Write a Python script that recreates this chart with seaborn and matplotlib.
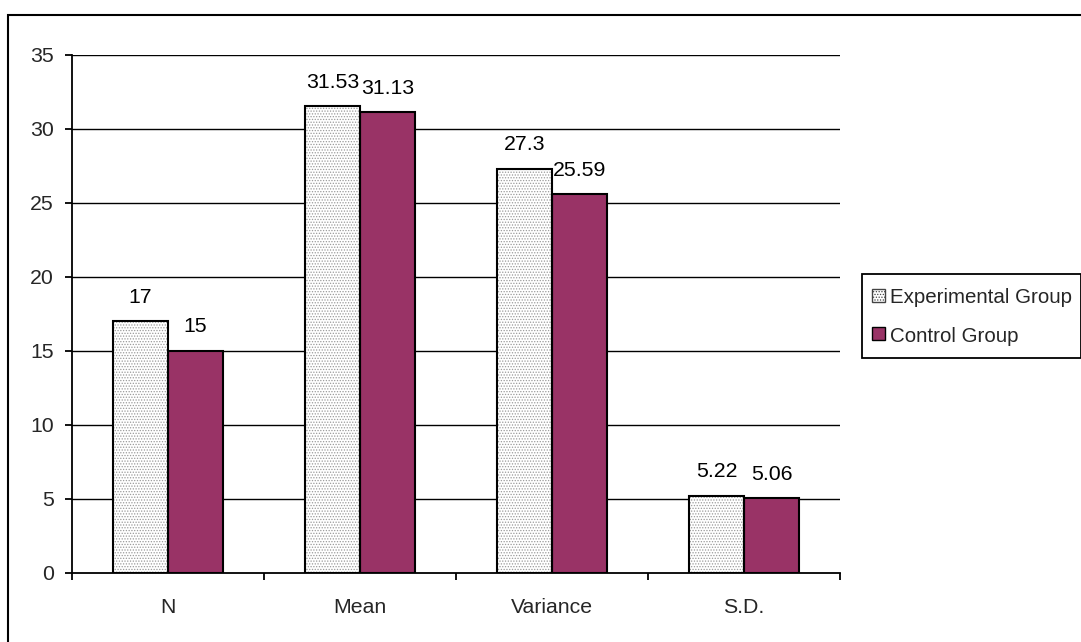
import matplotlib
matplotlib.use("Agg")
import matplotlib.pyplot as plt
from matplotlib.patches import Rectangle, Patch
from matplotlib.legend_handler import HandlerPatch
import seaborn as sns
import pandas as pd

categories = ["N", "Mean", "Variance", "S.D."]
groups = ["Experimental Group", "Control Group"]
experimental = [17, 31.53, 27.3, 5.22]
control = [15, 31.13, 25.59, 5.06]
y_ticks = [0, 5, 10, 15, 20, 25, 30, 35]

EXP_EDGE = "#9a9a9a"
CTRL_COLOR = "#993366"

sns.set_theme(style="white")
plt.rcParams["font.family"] = ["Liberation Sans", "DejaVu Sans"]
plt.rcParams["hatch.linewidth"] = 0.6

df = pd.DataFrame({
    "category": categories * 2,
    "group": [groups[0]] * 4 + [groups[1]] * 4,
    "value": experimental + control,
})

W, H = 1081, 642
fig = plt.figure(figsize=(W / 100, H / 100), dpi=100)
ax = fig.add_axes([72 / W, (H - 573) / H, 768 / W, (573 - 55) / H])

sns.barplot(data=df, x="category", y="value", hue="group", order=categories,
            hue_order=groups, palette=["white", CTRL_COLOR], width=0.573,
            edgecolor="black", linewidth=1.5, saturation=1, errorbar=None,
            legend=False, ax=ax, zorder=3)

fs = 15.3
fs_leg = 14.8
# pattern fill for experimental bars + crisp outlines
exp_cont = ax.containers[0]
for p in exp_cont.patches:
    p.set_hatch("......")
    p.set_edgecolor(EXP_EDGE)
    p.set_linewidth(0)
    ax.add_patch(Rectangle(p.get_xy(), p.get_width(), p.get_height(), fill=False,
                           edgecolor="black", linewidth=1.5, zorder=4))

for cont, vals in zip(ax.containers, [experimental, control]):
    ax.bar_label(cont, labels=[f"{v:g}" for v in vals], padding=10.5,
                 fontsize=fs, color="black")

ax.set_ylim(0, 35)
ax.set_xlim(-0.5, 3.5)
ax.set_yticks(y_ticks)
ax.set_yticklabels([str(t) for t in y_ticks])
ax.set_xticks([0, 1, 2, 3])
ax.set_xticklabels(categories)
ax.set_xlabel("")
ax.set_ylabel("")

# gridlines
for t in y_ticks[1:]:
    ax.axhline(t, color="black", linewidth=1.0, zorder=1)

for s in ["top", "right"]:
    ax.spines[s].set_visible(False)
for s in ["left", "bottom"]:
    ax.spines[s].set_color("black")
    ax.spines[s].set_linewidth(1.3)
    ax.spines[s].set_zorder(5)

ax.tick_params(axis="y", which="both", direction="out", length=5, width=1.3,
               color="black", labelsize=fs, pad=8, left=True)
ax.tick_params(axis="x", which="major", bottom=False, labelsize=fs, pad=12)
# category separator ticks
ax.set_xticks([-0.5, 0.5, 1.5, 2.5, 3.5], minor=True)
ax.tick_params(axis="x", which="minor", bottom=True, direction="out", length=5,
               width=1.3, color="black")


# legend with small square handles
SQ = 13 * 72 / 100  # square side in points


def square_patch(legend, orig_handle, xdescent, ydescent, width, height, fontsize):
    return Rectangle((-xdescent + (width - SQ) / 2, -ydescent + (height - SQ) / 2 + 1.0),
                     SQ, SQ)


handles = [Patch(facecolor="white", edgecolor="#444444", hatch="......", linewidth=1.0),
           Patch(facecolor=CTRL_COLOR, edgecolor="black", linewidth=1.0)]
leg = fig.legend(handles, groups, loc="upper left",
                 bbox_to_anchor=(862 / W, 1 - 274 / H), bbox_transform=fig.transFigure,
                 fontsize=fs_leg, frameon=True, fancybox=False, framealpha=1,
                 edgecolor="black", handlelength=0.78, handleheight=1.75,
                 handletextpad=0.2, labelspacing=0.5, borderpad=0.4,
                 borderaxespad=0,
                 handler_map={Patch: HandlerPatch(patch_func=square_patch)})
leg.get_frame().set_linewidth(1.3)

# outer chart border
fig.add_artist(Rectangle((8 / W, -0.1), 2, 1 - 15 / H + 0.1, transform=fig.transFigure,
                         fill=False, edgecolor="black", linewidth=1.5, clip_on=False))

fig.savefig("out.png", dpi=100)
